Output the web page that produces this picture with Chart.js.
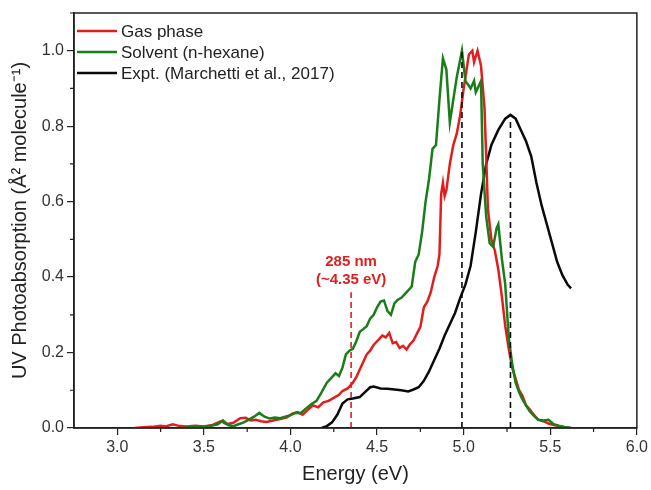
<!DOCTYPE html>
<html>
<head>
<meta charset="utf-8">
<script src="https://cdn.jsdelivr.net/npm/chart.js@4.4.1/dist/chart.umd.min.js"></script>
<style>
html, body { margin: 0; padding: 0; background: #fff; }
</style>
</head>
<body>
<canvas id="uvChart" width="651" height="490"></canvas>
<script>
// Gas phase (red)
const gasEnergy = [3.10, 3.15, 3.20, 3.25, 3.28, 3.32, 3.36, 3.40, 3.45, 3.50, 3.55, 3.60, 3.63, 3.67, 3.71, 3.74, 3.77, 3.80, 3.83, 3.86,
    3.90, 3.94, 3.98, 4.01, 4.04, 4.07, 4.10, 4.13, 4.16, 4.19, 4.22, 4.25, 4.28, 4.30, 4.33, 4.36, 4.38, 4.40, 4.42, 4.44,
    4.46, 4.48, 4.50, 4.53, 4.55, 4.57, 4.59, 4.61, 4.63, 4.65, 4.67, 4.69, 4.71, 4.73, 4.75, 4.77, 4.79, 4.81, 4.83, 4.85,
    4.86, 4.87, 4.88, 4.89, 4.90, 4.92, 4.94, 4.96, 4.98, 5.00, 5.02, 5.03, 5.05, 5.06, 5.08, 5.10, 5.12, 5.13, 5.14, 5.16,
    5.18, 5.20, 5.22, 5.24, 5.26, 5.28, 5.30, 5.32, 5.34, 5.36, 5.38, 5.40, 5.43, 5.46, 5.49, 5.52, 5.55, 5.58, 5.62];
const gasAbs = [0.000, 0.002, 0.003, 0.006, 0.004, 0.010, 0.005, 0.004, 0.006, 0.004, 0.008, 0.018, 0.010, 0.014, 0.026, 0.027, 0.020, 0.022, 0.018, 0.016,
    0.020, 0.024, 0.028, 0.038, 0.042, 0.035, 0.048, 0.060, 0.055, 0.068, 0.072, 0.080, 0.088, 0.098, 0.105, 0.120, 0.135, 0.155, 0.175, 0.195,
    0.205, 0.220, 0.230, 0.245, 0.240, 0.252, 0.225, 0.228, 0.212, 0.218, 0.208, 0.222, 0.232, 0.250, 0.268, 0.320, 0.335, 0.360, 0.400, 0.430,
    0.460, 0.620, 0.650, 0.615, 0.630, 0.700, 0.750, 0.780, 0.830, 0.900, 0.960, 0.990, 1.000, 0.970, 1.000, 0.960, 0.850, 0.720, 0.580, 0.500,
    0.470, 0.420, 0.350, 0.270, 0.210, 0.160, 0.130, 0.100, 0.085, 0.060, 0.050, 0.038, 0.022, 0.018, 0.012, 0.008, 0.005, 0.002, 0.000];

// Solvent n-hexane (green)
const solvEnergy = [3.38, 3.42, 3.46, 3.50, 3.54, 3.58, 3.61, 3.64, 3.67, 3.70, 3.73, 3.76, 3.79, 3.82, 3.85, 3.88, 3.91, 3.94, 3.97, 4.00,
    4.03, 4.06, 4.09, 4.12, 4.15, 4.18, 4.21, 4.24, 4.26, 4.28, 4.30, 4.32, 4.34, 4.36, 4.38, 4.40, 4.42, 4.44, 4.46, 4.48,
    4.50, 4.52, 4.54, 4.56, 4.58, 4.60, 4.62, 4.64, 4.66, 4.68, 4.70, 4.72, 4.74, 4.76, 4.78, 4.80, 4.82, 4.84, 4.86, 4.88,
    4.90, 4.92, 4.94, 4.96, 4.99, 5.01, 5.04, 5.06, 5.07, 5.09, 5.10, 5.11, 5.13, 5.15, 5.17, 5.19, 5.20, 5.22, 5.24, 5.26,
    5.28, 5.30, 5.32, 5.34, 5.36, 5.38, 5.40, 5.43, 5.46, 5.49, 5.52, 5.55, 5.58, 5.62];
const solvAbs = [0.000, 0.002, 0.004, 0.003, 0.006, 0.010, 0.020, 0.008, 0.005, 0.010, 0.015, 0.022, 0.030, 0.040, 0.030, 0.025, 0.028, 0.026, 0.030, 0.034,
    0.040, 0.040, 0.052, 0.063, 0.072, 0.095, 0.120, 0.135, 0.145, 0.138, 0.160, 0.195, 0.205, 0.210, 0.230, 0.255, 0.262, 0.270, 0.290, 0.300,
    0.320, 0.335, 0.338, 0.310, 0.300, 0.330, 0.340, 0.345, 0.355, 0.365, 0.375, 0.440, 0.460, 0.520, 0.600, 0.660, 0.740, 0.750, 0.870, 0.980,
    0.950, 0.810, 0.870, 0.930, 1.000, 0.920, 0.900, 0.920, 0.890, 0.910, 0.920, 0.700, 0.560, 0.490, 0.480, 0.530, 0.540, 0.450, 0.380, 0.240,
    0.170, 0.120, 0.095, 0.075, 0.060, 0.045, 0.035, 0.022, 0.020, 0.022, 0.010, 0.006, 0.003, 0.000];

// Experiment (black)
const exptEnergy = [4.18, 4.21, 4.24, 4.27, 4.30, 4.33, 4.36, 4.40, 4.43, 4.46, 4.48, 4.52, 4.56, 4.60, 4.64, 4.68, 4.71, 4.74, 4.77, 4.80,
    4.83, 4.86, 4.89, 4.92, 4.95, 4.98, 5.01, 5.04, 5.07, 5.10, 5.13, 5.16, 5.20, 5.24, 5.27, 5.30, 5.33, 5.36, 5.39, 5.42,
    5.45, 5.48, 5.51, 5.54, 5.57, 5.60, 5.62];
const exptAbs = [0.000, 0.005, 0.015, 0.035, 0.065, 0.076, 0.078, 0.082, 0.095, 0.108, 0.110, 0.105, 0.104, 0.102, 0.100, 0.097, 0.102, 0.108, 0.125, 0.150,
    0.180, 0.210, 0.245, 0.275, 0.305, 0.345, 0.380, 0.430, 0.520, 0.620, 0.700, 0.750, 0.790, 0.820, 0.830, 0.820, 0.790, 0.760, 0.720, 0.650,
    0.590, 0.540, 0.490, 0.440, 0.405, 0.380, 0.370];

// marker lines: energy, top value
const markerEnergy = [4.35, 4.99, 5.27];
const markerTop = [0.36, 1.0, 0.82];

const xTicks = [3.0, 3.5, 4.0, 4.5, 5.0, 5.5, 6.0];
const yTicks = [0.0, 0.2, 0.4, 0.6, 0.8, 1.0];

const RED = 'rgb(225,30,30)';
const GREEN = 'rgb(25,125,25)';
const BLACK = 'rgb(10,10,10)';
const AXIS = '#222';
const FONT = '"Liberation Sans", Arial, sans-serif';

function pts(xs, ys) {
    return xs.map((x, i) => ({x: x, y: ys[i]}));
}

function markerLine(i, color) {
    return {
        label: 'marker' + i,
        data: [{x: markerEnergy[i], y: 0}, {x: markerEnergy[i], y: markerTop[i]}],
        borderColor: color,
        borderWidth: 1.6,
        borderDash: [6, 4],
        pointRadius: 0,
        fill: false
    };
}

const framePlugin = {
    id: 'frame',
    afterDraw(chart) {
        const ctx = chart.ctx;
        const a = chart.chartArea;
        const xs = chart.scales.x, ys = chart.scales.y;
        ctx.save();
        ctx.strokeStyle = AXIS;
        ctx.lineWidth = 1.5;
        ctx.strokeRect(a.left, a.top, a.right - a.left, a.bottom - a.top);
        // minor ticks
        ctx.lineWidth = 1.2;
        ctx.beginPath();
        for (let v = 3.25; v < 6; v += 0.5) {
            const px = xs.getPixelForValue(v);
            ctx.moveTo(px, a.bottom);
            ctx.lineTo(px, a.bottom + 4);
        }
        for (let v = 0.1; v < 1.1; v += 0.2) {
            const py = ys.getPixelForValue(v);
            ctx.moveTo(a.left, py);
            ctx.lineTo(a.left - 4, py);
        }
        ctx.stroke();

        // legend
        const items = [['Gas phase', RED], ['Solvent (n-hexane)', GREEN], ['Expt. (Marchetti et al., 2017)', BLACK]];
        ctx.font = '17px ' + FONT;
        ctx.textBaseline = 'middle';
        items.forEach((it, i) => {
            const y = 31 + i * 21;
            ctx.strokeStyle = it[1];
            ctx.lineWidth = 2.5;
            ctx.beginPath();
            ctx.moveTo(a.left + 3, y);
            ctx.lineTo(a.left + 43, y);
            ctx.stroke();
            ctx.fillStyle = '#222';
            ctx.fillText(it[0], a.left + 47, y + 1);
        });

        // annotation
        const ax = xs.getPixelForValue(markerEnergy[0]);
        const ay = ys.getPixelForValue(markerTop[0]);
        ctx.fillStyle = RED;
        ctx.font = 'bold 15px ' + FONT;
        ctx.textAlign = 'center';
        ctx.fillText('285 nm', ax, ay - 30);
        ctx.fillText('(~4.35 eV)', ax, ay - 12);
        ctx.restore();
    }
};

const tickFont = {family: FONT, size: 16};

new Chart(document.getElementById('uvChart'), {
    type: 'line',
    data: {
        datasets: [
            {label: 'Gas phase', data: pts(gasEnergy, gasAbs), borderColor: RED, borderWidth: 2.5, pointRadius: 0, order: 2},
            {label: 'Solvent (n-hexane)', data: pts(solvEnergy, solvAbs), borderColor: GREEN, borderWidth: 2.5, pointRadius: 0, order: 1},
            {label: 'Expt. (Marchetti et al., 2017)', data: pts(exptEnergy, exptAbs), borderColor: BLACK, borderWidth: 2.5, pointRadius: 0, order: 3},
            markerLine(0, RED),
            markerLine(1, BLACK),
            markerLine(2, BLACK)
        ]
    },
    options: {
        responsive: false,
        animation: false,
        layout: {padding: {left: 0, right: 12, top: 13, bottom: 0}},
        plugins: {
            legend: {display: false},
            tooltip: {enabled: false}
        },
        scales: {
            x: {
                type: 'linear',
                min: 2.75,
                max: 6.0,
                afterBuildTicks: (s) => { s.ticks = xTicks.map(v => ({value: v})); },
                afterFit: (s) => { s.height = 62; },
                grid: {drawOnChartArea: false, tickLength: 7, color: AXIS, lineWidth: 1.2},
                border: {color: AXIS, width: 1.5},
                ticks: {
                    color: '#333',
                    font: tickFont,
                    padding: 3,
                    maxRotation: 0,
                    callback: (v) => Number(v).toFixed(1)
                },
                title: {
                    display: true,
                    text: 'Energy (eV)',
                    color: '#222',
                    font: {family: FONT, size: 20},
                    padding: {top: 2}
                }
            },
            y: {
                type: 'linear',
                min: 0,
                max: 1.1,
                afterBuildTicks: (s) => { s.ticks = yTicks.map(v => ({value: v})); },
                afterFit: (s) => { s.width = 74; },
                grid: {drawOnChartArea: false, tickLength: 7, color: AXIS, lineWidth: 1.2},
                border: {color: AXIS, width: 1.5},
                ticks: {
                    color: '#333',
                    font: tickFont,
                    padding: 3,
                    callback: (v) => Number(v).toFixed(1)
                },
                title: {
                    display: true,
                    text: 'UV Photoabsorption (Å² molecule⁻¹)',
                    color: '#222',
                    font: {family: FONT, size: 20},
                    padding: {top: 8, bottom: 2}
                }
            }
        }
    },
    plugins: [framePlugin]
});
</script>
</body>
</html>
